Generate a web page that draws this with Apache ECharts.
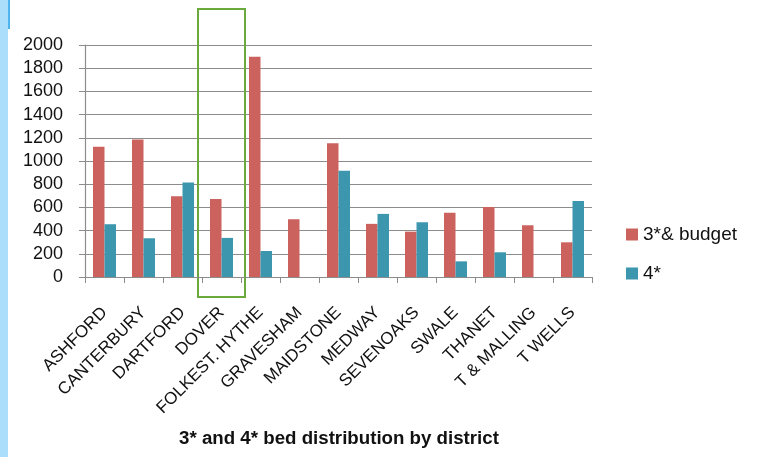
<!DOCTYPE html>
<html><head><meta charset="utf-8">
<script src="https://cdn.jsdelivr.net/npm/echarts@6/dist/echarts.min.js"></script>
<style>html,body{margin:0;padding:0;background:#fff}#c{width:761px;height:457px}</style>
</head><body><div id="c"></div>
<script>
const categories = ['ASHFORD','CANTERBURY','DARTFORD','DOVER','FOLKEST. HYTHE','GRAVESHAM','MAIDSTONE','MEDWAY','SEVENOAKS','SWALE','THANET','T & MALLING','T WELLS'];
const budget3 = [1122,1186,696,673,1899,498,1154,458,391,553,604,446,299];
const star4 = [455,334,814,337,224,0,915,544,472,135,213,0,656];
const seriesNames = ['3*& budget','4*'];
const titleText = '3* and 4* bed distribution by district';
const highlighted = 'DOVER';

const chart = echarts.init(document.getElementById('c'));
const font = 'Liberation Sans';
chart.setOption({
  animation:false,
  backgroundColor:'#fff',
  title:{text:titleText,left:334,top:424,textAlign:'center',
    textStyle:{fontFamily:font,fontSize:18.7,fontWeight:'bold',color:'#111'}},
  legend:{orient:'vertical',left:626,top:225,padding:0,itemWidth:12,itemHeight:12,itemGap:20,
    icon:'rect',textStyle:{fontFamily:font,fontSize:19,color:'#111'},
    data:seriesNames},
  grid:{left:85,right:169,top:45,bottom:180,containLabel:false},
  xAxis:{type:'category',data:categories,
    axisLine:{lineStyle:{color:'#8c8c8c',width:1.2}},
    axisTick:{show:true,length:6,lineStyle:{color:'#8c8c8c'}},
    axisLabel:{rotate:45,margin:33,interval:0,fontFamily:font,fontSize:17,color:'#111'}},
  yAxis:{type:'value',min:0,max:2000,interval:200,
    axisLine:{show:true,lineStyle:{color:'#8c8c8c',width:1.2}},
    axisTick:{show:true,length:6,lineStyle:{color:'#8c8c8c'}},
    splitLine:{lineStyle:{color:'#8c8c8c',width:1.2}},
    axisLabel:{margin:22,fontFamily:font,fontSize:18,color:'#111',formatter:v=>String(v)}},
  series:[
    {name:seriesNames[0],type:'bar',data:budget3,barGap:'0%',barCategoryGap:'41%',itemStyle:{color:'#CB625D'}},
    {name:seriesNames[1],type:'bar',data:star4,itemStyle:{color:'#3C97AE'}}
  ]
});
const cx = chart.convertToPixel({xAxisIndex:0}, highlighted);
chart.setOption({graphic:[
  {type:'rect',shape:{x:0,y:0,width:8,height:457},style:{fill:'#ABDEFB'},silent:true},
  {type:'rect',shape:{x:8,y:0,width:2,height:29},style:{fill:'#4FB3EE'},silent:true},
  {type:'rect',shape:{x:cx-23.5,y:9,width:47,height:288},style:{fill:'none',stroke:'#6AAA3C',lineWidth:2},silent:true}
]});
</script></body></html>
